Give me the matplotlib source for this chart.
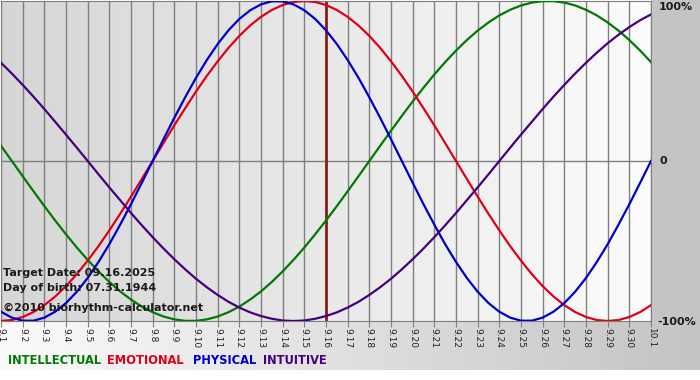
import numpy as np
import matplotlib
matplotlib.use("Agg")
import matplotlib.pyplot as plt
from matplotlib.patches import Rectangle

# day labels 9.1 .. 10.1
days = [f"9.{i}" for i in range(1, 31)] + ["10.1"]

physical = [-0.942, -0.979, -0.998, -0.998, -0.979, -0.942, -0.888, -0.817,
            -0.731, -0.631, -0.520, -0.398, -0.270, -0.136, 0.0, 0.136,
            0.270, 0.398, 0.520, 0.631, 0.731, 0.817, 0.888, 0.942,
            0.979, 0.998, 0.998, 0.979, 0.942, 0.888, 0.817, 0.731,
            0.631, 0.520, 0.398, 0.270, 0.136, 0.0, -0.136, -0.270,
            -0.398, -0.520, -0.631, -0.731, -0.817, -0.888, -0.942, -0.979,
            -0.998, -0.998, -0.979, -0.942, -0.888, -0.817, -0.731, -0.631,
            -0.520, -0.398, -0.270, -0.136, 0.0]
emotional = [-1.0, -0.994, -0.975, -0.944, -0.901, -0.847, -0.782, -0.707,
             -0.623, -0.532, -0.434, -0.330, -0.223, -0.112, 0.0, 0.112,
             0.223, 0.330, 0.434, 0.532, 0.623, 0.707, 0.782, 0.847,
             0.901, 0.944, 0.975, 0.994, 1.0, 0.994, 0.975, 0.944,
             0.901, 0.847, 0.782, 0.707, 0.623, 0.532, 0.434, 0.330,
             0.223, 0.112, 0.0, -0.112, -0.223, -0.330, -0.434, -0.532,
             -0.623, -0.707, -0.782, -0.847, -0.901, -0.944, -0.975, -0.994,
             -1.0, -0.994, -0.975, -0.944, -0.901]
intellectual = [0.095, 0.0, -0.095, -0.189, -0.282, -0.372, -0.458, -0.541,
                -0.618, -0.690, -0.756, -0.815, -0.866, -0.910, -0.945, -0.972,
                -0.990, -0.999, -0.999, -0.990, -0.972, -0.945, -0.910, -0.866,
                -0.815, -0.756, -0.690, -0.618, -0.541, -0.458, -0.372, -0.282,
                -0.189, -0.095, 0.0, 0.095, 0.189, 0.282, 0.372, 0.458,
                0.541, 0.618, 0.690, 0.756, 0.815, 0.866, 0.910, 0.945,
                0.972, 0.990, 0.999, 0.999, 0.990, 0.972, 0.945, 0.910,
                0.866, 0.815, 0.756, 0.690, 0.618]
intuitive = [0.614, 0.547, 0.476, 0.402, 0.325, 0.245, 0.165, 0.083,
             0.0, -0.083, -0.165, -0.245, -0.325, -0.402, -0.476, -0.547,
             -0.614, -0.677, -0.736, -0.789, -0.837, -0.880, -0.916, -0.946,
             -0.969, -0.986, -0.997, -1.0, -0.997, -0.986, -0.969, -0.946,
             -0.916, -0.880, -0.837, -0.789, -0.736, -0.677, -0.614, -0.547,
             -0.476, -0.402, -0.325, -0.245, -0.165, -0.083, 0.0, 0.083,
             0.165, 0.245, 0.325, 0.402, 0.476, 0.547, 0.614, 0.677,
             0.736, 0.789, 0.837, 0.880, 0.916]
target_day = "9.16"

GREEN, RED, BLUE, PURPLE = "#007a00", "#e0001a", "#0000cc", "#45007f"

W, H = 700, 380
fig = plt.figure(figsize=(7, 3.8), dpi=100)
fig.patch.set_facecolor("white")

# background layer in pixel coordinates
bg = fig.add_axes([0, 0, 1, 1])
grad = np.linspace(0, 1, 256).reshape(1, -1)
bg.imshow(grad, extent=[0, W, 370, 321], aspect="auto",
          cmap=matplotlib.colors.LinearSegmentedColormap.from_list("lo", ["#fbfbfb", "#c4c4c4"]))
bg.add_patch(Rectangle((651, 0), W - 651, 321, color="#c4c4c4", lw=0))
bg.set_xlim(0, W)
bg.set_ylim(H, 0)
bg.axis("off")

ax = fig.add_axes([1 / W, 59 / H, 650 / W, 320 / H])
x = np.arange(len(days))
t = np.arange(len(physical)) / 2.0  # half-day sampling
ax.imshow(grad, extent=[0, 30, -1, 1], aspect="auto", zorder=0,
          cmap=matplotlib.colors.LinearSegmentedColormap.from_list("hi", ["#d6d6d6", "#fcfcfc"]))
for xi in x:
    ax.axvline(xi, color="#7f7f7f", lw=1, zorder=1)
ax.axhline(0, color="#7f7f7f", lw=1, zorder=1)

ax.axvline(days.index(target_day), color="#8a1c1c", lw=2, zorder=2)

ax.plot(t, intellectual, color=GREEN, lw=1.6, zorder=3)
ax.plot(t, emotional, color=RED, lw=1.6, zorder=3)
ax.plot(t, physical, color=BLUE, lw=1.6, zorder=3)
ax.plot(t, intuitive, color=PURPLE, lw=1.6, zorder=3)

ax.set_xlim(0, 30)
ax.set_ylim(-1, 1)
ax.set_xticks(x)
ax.set_xticklabels(days, rotation=270, fontsize=6.5, color="#222222")
ax.set_yticks([])
ax.tick_params(axis="x", length=4, color="#7f7f7f", pad=1)
for s in ax.spines.values():
    s.set_color("#7f7f7f")

def ftext(px, py, s, **kw):
    fig.text(px / W, 1 - py / H, s, **kw)

info = dict(fontsize=8, fontweight="bold", color="#1a1a1a", va="baseline", zorder=5)
ftext(3, 276, "Target Date: 09.16.2025", **info)
ftext(3, 291, "Day of birth: 07.31.1944", **info)
ftext(3, 311, "\u00a92010 biorhythm-calculator.net", **info)

side = dict(fontsize=8, fontweight="bold", color="#1a1a1a", va="center")
ftext(659, 7, "100%", **side)
ftext(659, 161, "0", **side)
ftext(657, 322, "-100%", **side)

leg = dict(fontsize=8.3, fontweight="bold", va="center")
ftext(8, 361, "INTELLECTUAL", color=GREEN, **leg)
ftext(107, 361, "EMOTIONAL", color=RED, **leg)
ftext(193, 361, "PHYSICAL", color=BLUE, **leg)
ftext(263, 361, "INTUITIVE", color=PURPLE, **leg)

fig.savefig("out.png", dpi=100)
